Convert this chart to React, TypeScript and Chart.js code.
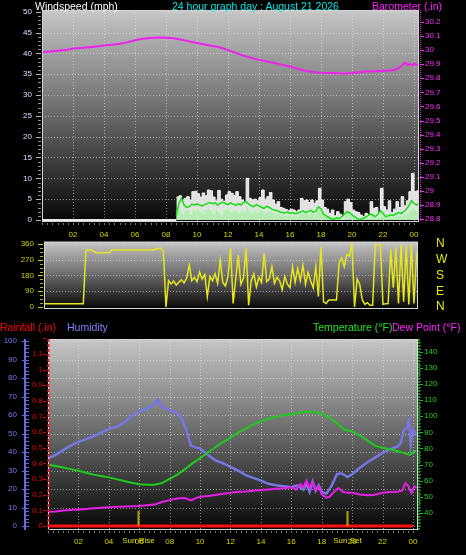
import React, { useEffect, useRef } from 'react';
import { Chart, registerables } from 'chart.js';

Chart.register(...registerables);
const FONT = '"Liberation Sans", Arial, sans-serif';
Chart.defaults.font.family = FONT;

// ---------------- DATA ----------------
// hours since midnight
const HOUR_STEP = 2;

// Barometer (in)
const BARO_TIMES = [0, 0.5, 1, 1.5, 2, 2.5, 3, 3.5, 4, 4.5, 5, 5.5, 6, 6.5, 7, 7.5, 8, 8.5, 9, 9.5, 10, 10.5, 11, 11.5, 12, 12.5, 13, 13.5, 14, 14.5, 15, 15.5, 16, 16.5, 17, 17.5, 18, 18.5, 19, 19.5, 20, 20.5, 21, 21.5, 22, 22.5, 22.75, 23, 23.25, 23.4, 23.6, 23.75, 23.9, 24, 24.15, 24.3];
const BARO_VALUES = [29.985, 29.99, 29.995, 30.0, 30.012, 30.015, 30.02, 30.026, 30.033, 30.038, 30.045, 30.055, 30.07, 30.08, 30.086, 30.089, 30.088, 30.085, 30.074, 30.062, 30.05, 30.04, 30.03, 30.018, 30.0, 29.98, 29.96, 29.945, 29.932, 29.92, 29.908, 29.895, 29.883, 29.868, 29.852, 29.845, 29.84, 29.837, 29.835, 29.834, 29.838, 29.845, 29.848, 29.85, 29.853, 29.856, 29.86, 29.872, 29.895, 29.912, 29.894, 29.9, 29.892, 29.905, 29.898, 29.895];

// Wind speed (mph), 10-minute samples from 08:40
const WIND_START_H = 8 + 40 / 60;
const WIND_STEP_H = 10 / 60;
const GUST_VALUES = [5.5, 5.8, 4.6, 5.2, 5.6, 4.8, 6.8, 6.9, 6.3, 5.5, 6.5, 5.8, 7.2, 7.0, 5.5, 4.6, 7.1, 5.0, 4.5, 6.0, 6.8, 6.4, 5.9, 6.8, 5.6, 4.8, 4.4, 10.0, 5.2, 4.8, 5.0, 4.6, 5.4, 7.2, 5.0, 5.6, 6.6, 4.8, 3.8, 4.4, 3.0, 2.8, 2.5, 2.2, 2.6, 2.4, 2.0, 2.4, 5.2, 4.6, 4.8, 4.2, 4.8, 4.0, 4.6, 7.6, 4.8, 3.0, 2.6, 1.6, 2.4, 1.0, 2.0, 1.4, 0.8, 4.4, 5.0, 4.2, 2.4, 2.0, 1.8, 1.2, 0.8, 1.6, 1.0, 4.4, 2.8, 3.0, 1.6, 7.6, 3.2, 2.4, 4.6, 1.8, 2.6, 4.4, 3.0, 5.6, 3.4, 4.6, 6.8, 11.2, 6.8, 7.0, 7.4];
const SPEED_VALUES = [2.0, 2.8, 1.6, 2.2, 2.5, 1.4, 2.6, 2.2, 2.8, 2.0, 1.5, 2.4, 2.8, 2.2, 1.6, 2.6, 2.0, 1.2, 2.5, 2.8, 2.4, 2.0, 2.6, 2.2, 1.8, 2.4, 2.0, 3.2, 2.2, 1.8, 2.4, 2.0, 2.6, 2.2, 1.6, 2.0, 2.4, 1.8, 1.4, 1.6, 1.2, 1.4, 1.0, 1.2, 1.0, 1.4, 0.8, 1.2, 2.0, 1.6, 2.0, 1.4, 1.8, 1.4, 2.0, 2.6, 1.6, 1.0, 0.8, 0.4, 0.8, 0.2, 0.6, 0.4, 0.2, 1.6, 2.0, 1.4, 0.8, 0.6, 0.4, 0.2, 0.2, 0.6, 0.4, 1.4, 1.0, 0.8, 0.6, 2.2, 1.0, 0.6, 1.4, 0.6, 0.8, 1.6, 1.0, 2.0, 1.2, 1.6, 2.4, 3.0, 2.6, 2.2, 2.4];
const AVG_VALUES = [1.0, 4.0, 5.2, 3.6, 3.0, 3.2, 3.8, 3.6, 3.9, 3.6, 3.4, 3.7, 4.0, 4.2, 3.9, 4.1, 3.6, 4.0, 4.3, 3.9, 3.7, 4.1, 3.8, 3.5, 3.9, 3.6, 4.2, 4.4, 3.8, 3.4, 3.2, 3.7, 3.4, 3.0, 2.8, 3.3, 3.0, 2.6, 2.4, 2.2, 2.0, 1.8, 1.7, 1.9, 1.6, 1.8, 1.5, 1.7, 1.9, 2.2, 1.8, 2.0, 2.3, 1.9, 2.1, 3.2, 2.6, 1.4, 1.0, 0.6, 0.3, 0.2, 0.5, 0.3, 0.8, 1.4, 2.0, 1.8, 1.2, 0.8, 0.4, 0.1, 0.3, 0.6, 0.9, 1.5, 1.2, 0.8, 1.4, 2.2, 1.6, 0.8, 1.0, 1.2, 1.1, 1.5, 1.8, 1.6, 2.0, 2.6, 3.4, 4.6, 4.0, 3.6, 4.2];
const CALM_TIMES = [0, 8 + 40 / 60];
const CALM_VALUES = [0, 0];

// Wind direction (degrees), 10-minute samples from 00:00
const DIR_STEP_H = 10 / 60;
const DIR_VALUES = [
  18, 18, 18, 18, 18, 18, 18, 18, 18, 18, 18, 18, 18, 18, 18, 18, 18,
  326, 326, 326, 318, 310, 310, 310, 310, 310, 310,
  326, 326, 326, 326, 326, 326, 326, 326, 326, 326, 326, 326, 326, 326, 326, 326, 326,
  330, 334, 336, 320, 0,
  150, 132, 148, 125, 142, 155, 138, 165, 240, 150,
  170, 145, 200, 160, 185, 60, 175, 150, 190, 135,
  268, 140, 120, 175, 335, 20, 160, 297, 130, 165,
  335, 10, 150, 190, 115, 170, 140, 306, 145, 160,
  230, 135, 170, 150, 100, 175, 130, 110, 230, 140,
  220, 150, 240, 130, 200, 150, 110, 230, 60, 343,
  30, 20, 40, 40, 40, 40, 249, 280, 230, 300,
  290, 360, 0, 160, 130, 40, 15, 25, 10, 10,
  350, 358, 355, 15, 18, 20, 330, 110, 340, 20,
  355, 30, 350, 15, 360, 20, 300, 240,
];
const COMPASS = { 0: 'N', 90: 'E', 180: 'S', 270: 'W', 360: 'N' };

// Humidity (%)
const HUM_TIMES = [0, 0.5, 1, 1.5, 2, 2.5, 3, 3.5, 4, 4.5, 5, 5.5, 6, 6.5, 7, 7.2, 7.5, 8, 8.5, 8.8, 9.1, 9.4, 9.7, 10, 10.5, 11, 11.5, 12, 12.5, 13, 13.5, 14, 14.5, 15, 15.5, 16, 16.4, 16.8, 17, 17.2, 17.4, 17.6, 17.8, 18, 18.3, 18.6, 19, 19.3, 19.7, 20, 20.5, 21, 21.5, 22, 22.5, 23, 23.2, 23.4, 23.6, 23.75, 23.85, 24, 24.25];
const HUM_VALUES = [36.5, 38.5, 41, 43.5, 45.5, 47, 48.5, 50.5, 52.5, 53.5, 56, 59.5, 62, 63.5, 65.5, 68.5, 64.5, 62.5, 61, 58, 52, 43.5, 42.5, 42, 38.5, 35.5, 34, 32, 30, 27.5, 26, 24.5, 22.8, 22, 21.5, 21, 22, 19.5, 23, 18.5, 24, 19, 22, 18.5, 17.5, 21, 28, 28.5, 26.5, 28, 31.5, 34.5, 37, 39.5, 41.5, 43, 45, 52, 53, 57, 44, 52, 49];

// Temperature (F)
const TEMP_TIMES = [0, 0.5, 1, 1.5, 2, 2.5, 3, 3.5, 4, 4.5, 5, 5.5, 6, 6.5, 7, 7.5, 8, 8.5, 9, 9.5, 10, 10.5, 11, 11.5, 12, 12.5, 13, 13.5, 14, 14.5, 15, 15.5, 16, 16.5, 17, 17.5, 18, 18.5, 19, 19.5, 20, 20.5, 21, 21.5, 22, 22.5, 23, 23.5, 23.8, 24, 24.2];
const TEMP_VALUES = [70, 69.2, 68.2, 67.2, 66.2, 65, 63.8, 62.9, 62.1, 61, 59.8, 58.8, 57.8, 57.5, 57.5, 58.6, 61.2, 63.8, 67.2, 70.8, 74, 77.5, 80.8, 84, 86.8, 89.8, 92.4, 95, 96.9, 98.4, 99.6, 100.6, 101.3, 102.2, 102.8, 102.8, 101.6, 99.2, 95.6, 91.6, 90.6, 88.2, 85, 81.8, 80.4, 79.5, 78.3, 77, 76, 77.8, 78.6];

// Dew point (F)
const DEW_TIMES = [0, 0.5, 1, 1.5, 2, 2.5, 3, 3.5, 4, 4.5, 5, 5.5, 6, 6.5, 7, 7.5, 8, 8.5, 9, 9.4, 9.8, 10, 10.5, 11, 11.5, 12, 12.5, 13, 13.5, 14, 14.5, 15, 15.5, 16, 16.3, 16.6, 16.8, 17, 17.2, 17.4, 17.6, 17.8, 18, 18.3, 18.5, 18.8, 19.1, 19.4, 19.7, 20, 20.5, 21, 21.5, 22, 22.5, 23, 23.3, 23.5, 23.7, 23.9, 24.1, 24.25];
const DEW_VALUES = [40.8, 41, 41.5, 41.8, 42.2, 42.5, 42.9, 43.2, 43.5, 43.8, 44, 44.2, 44.4, 44.8, 45.2, 46.8, 48, 49, 49.3, 47.8, 49.5, 50, 50.5, 51.2, 52, 52.6, 53.2, 53.4, 53.8, 54.3, 54.6, 55, 55.4, 56, 54.5, 58, 56, 60, 55.5, 59, 54, 56.5, 51.5, 49.5, 50, 53, 55.5, 53, 52.5, 52.5, 51.5, 51, 51.3, 52.5, 53, 53.2, 54, 58.5, 56.5, 52.5, 56.5, 55.5];

// Rainfall (in)
const RAIN_TIMES = [0, 24];
const RAIN_VALUES = [0, 0];

// Sun events (hours)
const SUN_LABELS = ['Sun Rise', 'Sun Set'];
const SUN_TIMES = [5.92, 19.68];

// ---------------- HELPERS ----------------
const pts = (times: number[], values: number[]) => times.map((t, i) => ({ x: t, y: values[i] }));
const stepPts = (start: number, step: number, values: number[]) => values.map((v, i) => ({ x: start + i * step, y: v }));
const fmtNum = (v: number) => String(Math.round(v * 10) / 10);
const fmtHour = (v: number) => (v <= 0 ? '' : String(Math.round(v) % 24).padStart(2, '0'));

const X_LABEL = '#d8d800';
const GRID = 'rgba(235,235,235,0.55)';

function hourAxis(min: number, max: number, height: number, padding: number, display = true) {
  return {
    type: 'linear', position: 'bottom', min, max, display,
    afterFit: (s: any) => { s.height = height; s.paddingLeft = 0; s.paddingRight = 0; },
    grid: { display: false, drawTicks: false },
    border: { display: false },
    ticks: {
      stepSize: HOUR_STEP, includeBounds: false, autoSkip: false, maxRotation: 0, minRotation: 0,
      padding, color: X_LABEL, font: { size: 8 }, callback: (v: any) => fmtHour(Number(v)),
    },
  };
}

function valueAxis(position: string, min: number, max: number, width: number, step: number, padding: number, color: string, opts: any = {}) {
  return {
    type: 'linear', position, min, max, weight: opts.weight ?? 0,
    afterFit: (s: any) => { s.width = width; s.paddingTop = 0; s.paddingBottom = 0; },
    grid: { display: false, drawTicks: false },
    border: { display: false },
    ticks: {
      stepSize: step, includeBounds: false, autoSkip: false, padding, color,
      font: { size: opts.size ?? 8 },
      callback: opts.callback ?? ((v: any) => fmtNum(Number(v))),
    },
  };
}

function line(ctx: CanvasRenderingContext2D, x0: number, y0: number, x1: number, y1: number) {
  ctx.beginPath(); ctx.moveTo(x0, y0); ctx.lineTo(x1, y1); ctx.stroke();
}

function yMarks(ctx: CanvasRenderingContext2D, scale: any, step: number, x0: number, dx: number, color: string, lo?: number, hi?: number) {
  const a = lo ?? scale.min, b = hi ?? scale.max;
  const n0 = Math.ceil(a / step - 1e-6), n1 = Math.floor(b / step + 1e-6);
  ctx.save(); ctx.strokeStyle = color; ctx.lineWidth = 1; ctx.setLineDash([]);
  ctx.beginPath();
  for (let n = n0; n <= n1; n++) {
    const y = Math.round(scale.getPixelForValue(n * step)) + 0.5;
    ctx.moveTo(x0, y); ctx.lineTo(x0 + dx, y);
  }
  ctx.stroke(); ctx.restore();
}

function xMarks(ctx: CanvasRenderingContext2D, scale: any, step: number, y0: number, dy: number, color: string) {
  const n0 = Math.ceil(scale.min / step - 1e-6), n1 = Math.floor(scale.max / step + 1e-6);
  ctx.save(); ctx.strokeStyle = color; ctx.lineWidth = 1;
  ctx.beginPath();
  for (let n = n0; n <= n1; n++) {
    const x = Math.round(scale.getPixelForValue(n * step)) + 0.5;
    ctx.moveTo(x, y0); ctx.lineTo(x, y0 + dy);
  }
  ctx.stroke(); ctx.restore();
}

function vAxisLine(ctx: CanvasRenderingContext2D, x: number, a: any, color: string, width: number, dash: number[]) {
  ctx.save(); ctx.strokeStyle = color; ctx.lineWidth = width; ctx.setLineDash(dash);
  line(ctx, x, a.top, x, a.bottom); ctx.restore();
}

function makePanel(id: string, xId: string | null, yId: string | null, decor: (chart: any, ctx: CanvasRenderingContext2D, a: any) => void) {
  return {
    id,
    beforeDraw(chart: any) {
      const { ctx, chartArea: a } = chart;
      ctx.save();
      const g = ctx.createLinearGradient(0, a.top, 0, a.bottom);
      g.addColorStop(0, '#c6c6c6');
      g.addColorStop(0.5, '#686868');
      g.addColorStop(1, '#060606');
      ctx.fillStyle = g;
      ctx.fillRect(a.left, a.top, a.right - a.left, a.bottom - a.top);
      ctx.strokeStyle = GRID; ctx.lineWidth = 1; ctx.setLineDash([1, 2]);
      if (xId) {
        const xs = chart.scales[xId];
        for (const t of xs.ticks) {
          const x = Math.round(xs.getPixelForValue(t.value)) + 0.5;
          if (x <= a.left + 2 || x >= a.right - 2) continue;
          line(ctx, x, a.top, x, a.bottom);
        }
      }
      if (yId) {
        const ys = chart.scales[yId];
        for (const t of ys.ticks) {
          const y = Math.round(ys.getPixelForValue(t.value)) + 0.5;
          if (y <= a.top + 2 || y >= a.bottom - 2) continue;
          line(ctx, a.left, y, a.right, y);
        }
      }
      ctx.restore();
    },
    afterDraw(chart: any) {
      const { ctx, chartArea: a } = chart;
      ctx.save();
      ctx.strokeStyle = '#d6d6d6'; ctx.lineWidth = 1; ctx.setLineDash([]);
      ctx.strokeRect(a.left + 0.5, a.top + 0.5, a.right - a.left - 1, a.bottom - a.top - 1);
      ctx.restore();
      decor(chart, ctx, a);
    },
  };
}

// ---------------- CHART CONFIGS ----------------
function windConfig(): any {
  return {
    type: 'line',
    data: {
      datasets: [
        { label: 'Barometer', yAxisID: 'baro', data: pts(BARO_TIMES, BARO_VALUES), borderColor: '#f020f0', borderWidth: 2, pointRadius: 0 },
        { label: 'Average', yAxisID: 'wind', data: stepPts(WIND_START_H, WIND_STEP_H, AVG_VALUES), borderColor: '#14e014', borderWidth: 1.5, pointRadius: 0 },
        { label: 'Speed', yAxisID: 'wind', data: stepPts(WIND_START_H, WIND_STEP_H, SPEED_VALUES), stepped: true, fill: 'origin', backgroundColor: '#b4ecb4', borderColor: '#c8f6c8', borderWidth: 1, pointRadius: 0 },
        { label: 'Gust', yAxisID: 'wind', data: stepPts(WIND_START_H, WIND_STEP_H, GUST_VALUES), stepped: true, fill: 'origin', backgroundColor: '#e2e2e2', borderColor: '#f2f2f2', borderWidth: 1, pointRadius: 0 },
        { label: 'Calm', yAxisID: 'wind', data: pts(CALM_TIMES, CALM_VALUES), borderColor: '#e8e8e8', borderWidth: 2, pointRadius: 0 },
      ],
    },
    options: {
      responsive: false, animation: false, events: [],
      layout: { padding: { top: 10, left: 0, right: 0, bottom: 0 } },
      plugins: { legend: { display: false }, tooltip: { enabled: false } },
      scales: {
        x: hourAxis(0, 24.32, 18, 8),
        wind: valueAxis('left', -0.48, 50.4, 42, 5, 10, '#cfe3ff'),
        baro: valueAxis('right', 28.779, 30.285, 47, 0.1, 6, '#ff2cff'),
      },
    },
    plugins: [makePanel('windPanel', 'x', 'wind', (chart, ctx, a) => {
      const s = chart.scales;
      yMarks(ctx, s.wind, 1, a.left - 4, 3, '#8c8c8c', 0, 50);
      yMarks(ctx, s.wind, 5, a.left - 6, 5, '#b8b8b8', 0, 50);
      vAxisLine(ctx, a.right + 1.5, a, '#e020e0', 1, [1, 1]);
      yMarks(ctx, s.baro, 0.1, a.right + 1, 4, '#ff2cff');
      xMarks(ctx, s.x, 1 / 3, a.bottom + 1, 2, '#7a7a7a');
    })],
  };
}

function dirConfig(): any {
  return {
    type: 'line',
    data: {
      datasets: [
        { label: 'Direction', yAxisID: 'dir', data: stepPts(0, DIR_STEP_H, DIR_VALUES), borderColor: '#e6e61e', borderWidth: 1.5, pointRadius: 0 },
      ],
    },
    options: {
      responsive: false, animation: false, events: [],
      layout: { padding: { top: 9.7, left: 0, right: 0, bottom: 9 } },
      plugins: { legend: { display: false }, tooltip: { enabled: false } },
      scales: {
        x: { type: 'linear', min: 0.13, max: 24.26, display: false },
        dir: valueAxis('left', -11.4, 373, 44, 90, 10, '#d0d000'),
        compass: valueAxis('right', -11.4, 373, 48, 90, 18, '#e8e800', { size: 12, callback: (v: any) => (COMPASS as any)[Number(v)] ?? '' }),
      },
    },
    plugins: [makePanel('dirPanel', null, 'dir', (chart, ctx, a) => {
      const s = chart.scales;
      yMarks(ctx, s.dir, 22.5, a.left - 4, 3, '#b8b800', 0, 360);
      yMarks(ctx, s.dir, 90, a.left - 6, 5, '#d0d000', 0, 360);
    })],
  };
}

function climateConfig(): any {
  return {
    type: 'line',
    data: {
      datasets: [
        { label: 'Rainfall', yAxisID: 'rain', data: pts(RAIN_TIMES, RAIN_VALUES), borderColor: '#ff1010', borderWidth: 3, pointRadius: 0 },
        { label: 'Temperature', yAxisID: 'temp', data: pts(TEMP_TIMES, TEMP_VALUES), borderColor: '#1ccc1c', borderWidth: 2, pointRadius: 0 },
        { label: 'Dew Point', yAxisID: 'temp', data: pts(DEW_TIMES, DEW_VALUES), borderColor: '#e81ee8', borderWidth: 2, pointRadius: 0 },
        { label: 'Humidity', yAxisID: 'hum', data: pts(HUM_TIMES, HUM_VALUES), borderColor: '#7676e6', borderWidth: 2.5, pointRadius: 0 },
      ],
    },
    options: {
      responsive: false, animation: false, events: [],
      layout: { padding: { top: 21, left: 0, right: 0, bottom: 0 } },
      plugins: { legend: { display: false }, tooltip: { enabled: false } },
      scales: {
        x: hourAxis(0, 24.33, 25, 7),
        hum: valueAxis('left', -2.16, 101.1, 26, 10, 9, '#7878f0', { weight: 1 }),
        rain: valueAxis('left', -0.0256, 1.1957, 22, 0.1, 5, '#e80000', { weight: 0 }),
        temp: valueAxis('right', 29.46, 147.9, 48, 10, 6, '#20d020', { callback: (v: any) => (Number(v) < 40 ? '' : String(v)) }),
      },
    },
    plugins: [makePanel('climatePanel', 'x', 'hum', (chart, ctx, a) => {
      const s = chart.scales;
      // humidity axis
      vAxisLine(ctx, s.hum.right - 1, a, '#6a6ae0', 2, []);
      yMarks(ctx, s.hum, 2, s.hum.right, 3, '#6a6ae0', 0, 100);
      yMarks(ctx, s.hum, 10, s.hum.right - 4, 3, '#6a6ae0', 0, 100);
      // rainfall axis
      yMarks(ctx, s.rain, 0.1, s.rain.right - 5, 3, '#e00000', 0, 1.2);
      vAxisLine(ctx, a.left + 0.5, a, '#f02020', 2, [3, 2]);
      // temperature axis
      vAxisLine(ctx, a.right + 1, a, '#20c020', 1.5, [2, 1]);
      yMarks(ctx, s.temp, 10, a.right + 1, 4, '#20c020', 40, 140);
      yMarks(ctx, s.temp, 2, a.right + 1, 2, '#1a9a1a', 32, 146);
      xMarks(ctx, s.x, 1 / 3, a.bottom + 1, 2, '#7a7a7a');
      // sunrise / sunset markers
      ctx.save();
      SUN_TIMES.forEach((t, i) => {
        const x = Math.round(s.x.getPixelForValue(t)) + 0.5;
        const y0 = s.hum.getPixelForValue(0);
        ctx.strokeStyle = '#b4a400'; ctx.lineWidth = 2; ctx.setLineDash([]);
        line(ctx, x, y0, x, y0 - 15);
        ctx.fillStyle = '#e0e000';
        ctx.font = `8px ${FONT}`;
        ctx.textAlign = 'center'; ctx.textBaseline = 'top';
        ctx.fillText(SUN_LABELS[i], x, a.bottom + 7);
      });
      ctx.restore();
    })],
  };
}

// ---------------- COMPONENT ----------------
const headerStyle = (left: number, top: number, color: string): React.CSSProperties => ({
  position: 'absolute', left, top, color, fontFamily: FONT, fontSize: 10.5, lineHeight: '12px', whiteSpace: 'nowrap',
});

export default function App() {
  const c1 = useRef<HTMLCanvasElement>(null);
  const c2 = useRef<HTMLCanvasElement>(null);
  const c3 = useRef<HTMLCanvasElement>(null);

  useEffect(() => {
    document.body.style.margin = '0';
    document.body.style.background = '#000';
    const charts = [
      new Chart(c1.current as HTMLCanvasElement, windConfig()),
      new Chart(c2.current as HTMLCanvasElement, dirConfig()),
      new Chart(c3.current as HTMLCanvasElement, climateConfig()),
    ];
    return () => charts.forEach((c) => c.destroy());
  }, []);

  return (
    <div style={{ position: 'relative', width: 466, height: 555, background: '#000', overflow: 'hidden' }}>
      <canvas ref={c1} width={466} height={240} style={{ position: 'absolute', left: 0, top: 0 }} />
      <canvas ref={c2} width={466} height={86} style={{ position: 'absolute', left: 0, top: 232 }} />
      <canvas ref={c3} width={466} height={237} style={{ position: 'absolute', left: 0, top: 318 }} />
      <div style={headerStyle(35, -0.5, '#ffffff')}>Windspeed (mph)</div>
      <div style={headerStyle(172, -0.5, '#00e6e6')}>24 hour graph day : August 21 2026</div>
      <div style={headerStyle(372, -0.5, '#ff20ff')}>Barometer (.in)</div>
      <div style={headerStyle(0, 321, '#ff0000')}>Rainfall (.in)</div>
      <div style={headerStyle(67, 321, '#8080ff')}>Humidity</div>
      <div style={headerStyle(313, 321, '#20e020')}>Temperature (°F)</div>
      <div style={headerStyle(392, 321, '#ff20ff')}>Dew Point (°F)</div>
    </div>
  );
}
